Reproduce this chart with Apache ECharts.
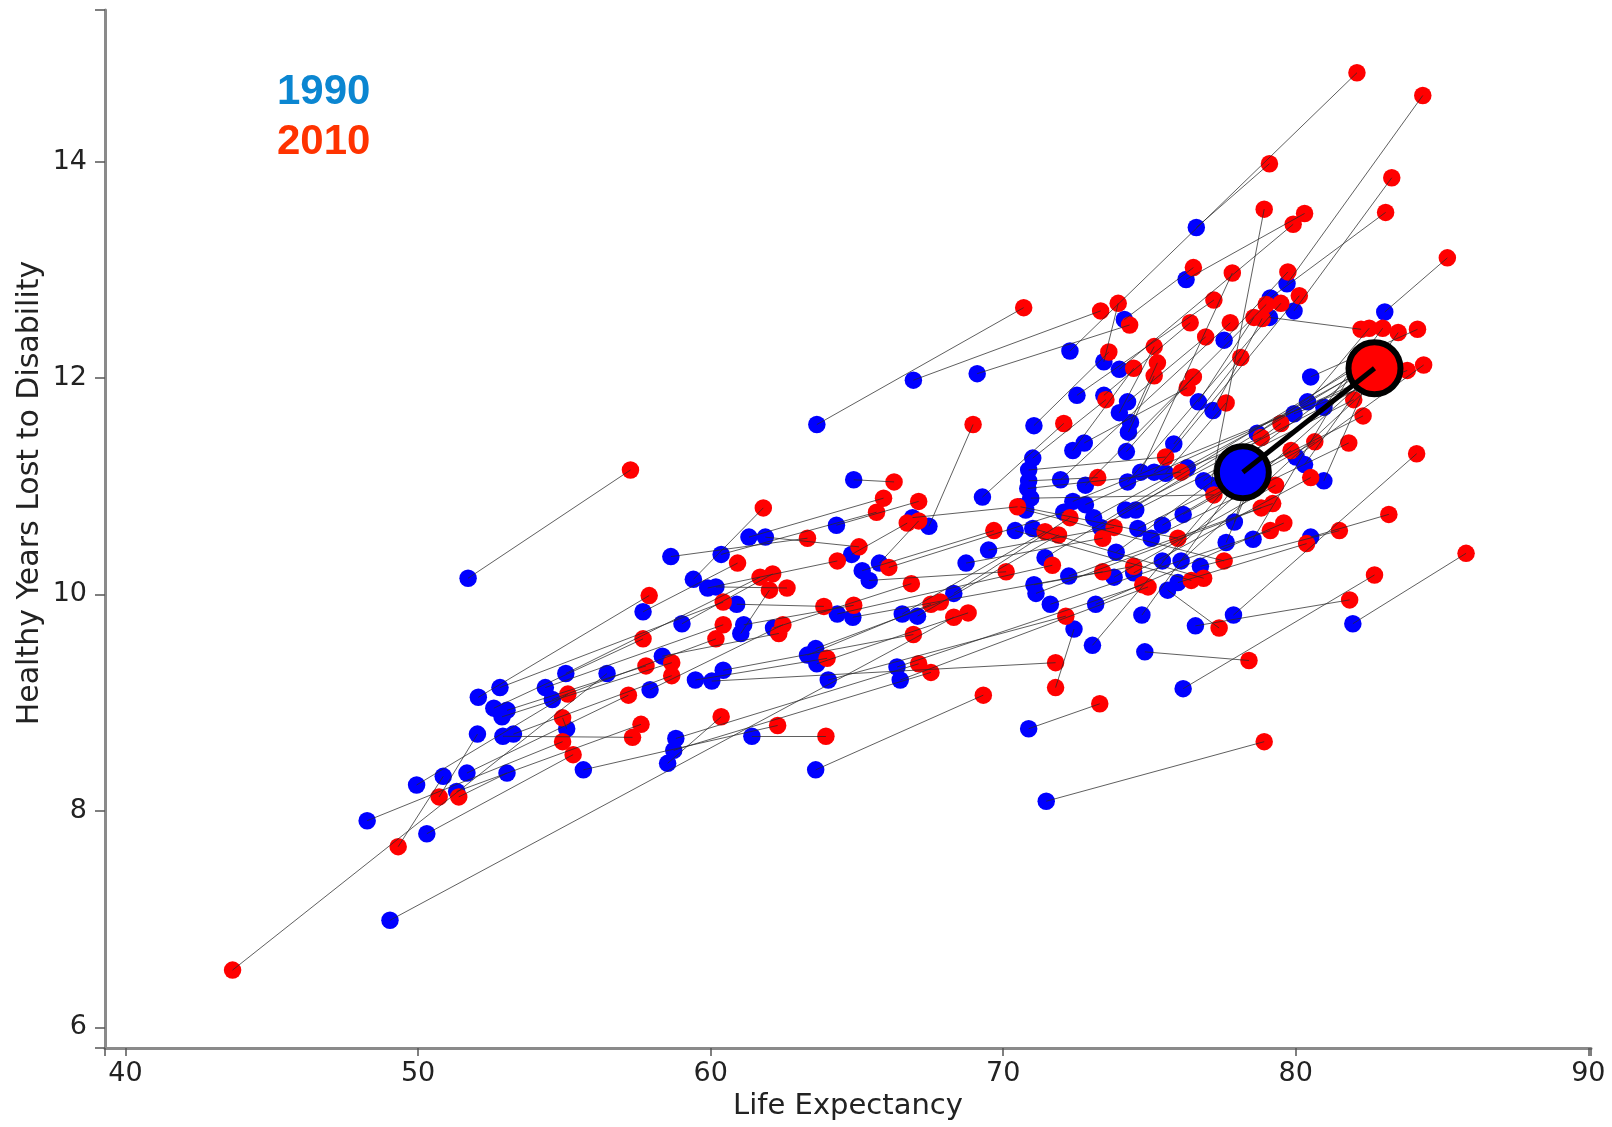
<!DOCTYPE html>
<html>
<head>
<meta charset="utf-8">
<title>Life Expectancy vs Healthy Years Lost to Disability</title>
<script src="https://cdn.jsdelivr.net/npm/echarts@6/dist/echarts.min.js"></script>
<style>
  html, body { margin: 0; padding: 0; background: #ffffff; }
  #chart { width: 1612px; height: 1127px; }
</style>
</head>
<body>
<div id="chart"></div>
<script>
// One entry per country: life expectancy and healthy years lost to disability, 1990 and 2010
const lifeExp1990 = [
  48.26, 49.04, 49.95, 50.30, 50.86, 51.32, 51.67, 51.71, 52.06, 52.59,
  53.04, 52.87, 52.03, 52.90, 53.26, 53.04, 52.80, 54.35, 54.59, 55.05,
  55.08, 55.65, 56.46, 57.69, 57.93, 58.35, 58.64, 59.02, 59.41, 59.90,
  60.18, 60.36, 60.89, 61.13, 61.03, 62.15, 61.31, 61.87, 59.48, 60.04,
  60.43, 58.81, 58.74, 58.53, 61.41, 63.59, 63.31, 63.59, 63.63, 64.02,
  63.63, 64.30, 64.89, 64.82, 65.18, 65.42, 65.77, 64.33, 64.86, 66.37,
  66.48, 66.55, 67.07, 66.90, 67.46, 66.93, 69.11, 68.31, 68.73, 69.50,
  69.29, 71.01, 70.87, 70.87, 70.84, 70.94, 70.59, 70.77, 71.05, 70.41,
  71.01, 71.05, 72.42, 74.84, 76.15, 70.87, 71.47, 76.57, 77.87, 81.95,
  75.62, 72.28, 76.60, 79.70, 79.13, 79.94, 83.04, 76.25, 73.97, 77.10,
  74.14, 73.44, 77.55, 79.10, 72.52, 73.44, 80.51, 74.25, 73.97, 76.67,
  77.17, 80.40, 80.96, 79.94, 74.35, 74.28, 78.68, 72.38, 72.77, 74.21,
  75.83, 80.01, 80.30, 71.96, 72.81, 74.25, 74.70, 75.16, 75.55, 76.29,
  76.85, 72.38, 72.81, 72.07, 73.09, 73.33, 74.18, 74.53, 74.60, 75.06,
  75.44, 76.15, 71.12, 71.43, 71.61, 72.24, 73.16, 73.79, 73.86, 74.46,
  75.44, 76.08, 76.74, 75.97, 74.74, 73.05, 80.96, 77.90, 78.54, 80.51, 77.62
];
const yld1990 = [
  7.91, 6.99, 8.24, 7.79, 8.32, 8.18, 8.35, 10.15, 9.05, 8.95,
  8.93, 8.87, 8.71, 8.69, 8.71, 8.35, 9.14, 9.14, 9.03, 9.27,
  8.76, 8.38, 9.27, 9.84, 9.12, 9.43, 10.35, 9.73, 10.14, 10.06,
  10.07, 10.37, 9.91, 9.72, 9.64, 9.69, 10.53, 10.53, 9.21, 9.20,
  9.30, 8.67, 8.56, 8.44, 8.69, 8.38, 9.44, 9.50, 9.36, 9.21,
  11.57, 10.64, 11.06, 10.37, 10.22, 10.13, 10.29, 9.82, 9.79, 9.33,
  9.21, 9.82, 9.80, 10.71, 10.63, 11.98, 12.04, 10.01, 10.29, 10.41,
  10.90, 11.26, 11.15, 11.05, 10.98, 10.89, 10.81, 10.78, 11.56, 10.59,
  10.61, 10.09, 9.68, 9.47, 9.13, 8.76, 8.09, 9.71, 9.81, 9.73,
  10.04, 12.25, 13.39, 12.87, 12.74, 12.62, 12.61, 12.91, 12.08, 11.01,
  12.54, 12.15, 12.35, 12.56, 11.84, 11.84, 12.01, 11.78, 11.68, 11.78,
  11.70, 11.78, 11.73, 11.67, 11.59, 11.50, 11.49, 11.33, 11.40, 11.32,
  11.39, 11.27, 11.20, 11.06, 11.01, 11.04, 11.13, 11.13, 11.12, 11.17,
  11.05, 10.86, 10.83, 10.76, 10.71, 10.62, 10.78, 10.78, 10.61, 10.52,
  10.64, 10.74, 10.01, 10.34, 9.91, 10.17, 9.91, 10.16, 10.39, 10.20,
  10.31, 10.31, 10.26, 10.11, 9.81, 9.53, 11.05, 10.67, 10.51, 10.53, 10.48
];
const lifeExp2010 = [
  54.94, 68.31, 55.12, 55.30, 49.32, 57.62, 57.19, 57.26, 57.90, 57.69,
  57.79, 58.67, 50.72, 57.33, 58.67, 51.39, 60.43, 60.43, 60.18, 61.69,
  54.94, 62.29, 43.66, 60.92, 62.47, 62.33, 63.31, 62.12, 61.80, 64.33,
  62.61, 65.67, 63.87, 64.89, 62.01, 66.86, 65.91, 65.07, 63.98, 71.79,
  66.93, 67.11, 67.53, 60.36, 63.94, 69.32, 67.53, 67.85, 68.80, 72.14,
  70.70, 67.11, 66.27, 66.72, 69.68, 70.10, 67.11, 71.68, 73.40, 74.77,
  74.95, 71.43, 71.89, 70.49, 68.97, 73.33, 74.32, 72.28, 73.40, 73.79,
  72.07, 73.51, 75.55, 73.23, 76.08, 77.20, 75.97, 77.55, 73.61, 76.43,
  76.85, 74.46, 71.79, 78.40, 82.69, 73.30, 78.92, 81.84, 84.13, 85.82,
  77.38, 82.09, 79.10, 84.34, 83.07, 83.28, 85.18, 80.30, 79.91, 78.92,
  76.50, 73.93, 79.73, 82.23, 77.20, 76.39, 84.16, 76.92, 75.16, 78.57,
  78.85, 82.51, 82.97, 83.81, 75.27, 75.16, 82.33, 74.46, 76.29, 76.50,
  78.12, 84.37, 83.50, 77.76, 78.99, 79.49, 77.83, 80.12, 77.62, 78.82,
  79.49, 82.83, 82.47, 66.09, 83.00, 82.12, 83.18, 81.98, 82.30, 81.81,
  79.84, 80.65, 78.82, 82.65, 79.13, 79.21, 79.59, 79.31, 82.40, 80.51,
  82.90, 82.69, 81.49, 80.37, 78.43, 77.90, 82.58, 78.33, 82.26, 83.18, 78.64
];
const yld2010 = [
  8.64, 9.79, 9.08, 8.52, 7.67, 8.80, 9.07, 11.15, 9.99, 9.59,
  9.34, 9.37, 8.13, 8.68, 9.25, 8.13, 9.93, 9.72, 9.59, 10.16,
  8.86, 8.79, 6.53, 10.29, 9.72, 9.64, 10.52, 10.19, 10.80, 10.31,
  10.06, 10.76, 9.89, 9.90, 10.04, 10.10, 10.89, 10.44, 9.41, 9.37,
  9.63, 9.36, 9.28, 8.87, 8.69, 9.07, 9.91, 9.93, 9.83, 9.80,
  12.65, 10.86, 11.04, 10.66, 10.59, 10.21, 10.68, 10.27, 10.21, 10.09,
  10.07, 10.58, 10.55, 10.81, 11.57, 12.62, 12.49, 10.71, 10.52, 10.62,
  11.58, 11.80, 11.27, 11.08, 11.13, 10.92, 10.52, 10.31, 12.24, 10.13,
  10.15, 10.26, 9.14, 9.39, 10.18, 8.99, 8.64, 9.95, 11.30, 10.38,
  9.69, 14.82, 13.98, 14.61, 13.53, 13.85, 13.11, 13.52, 13.42, 13.56,
  13.02, 12.69, 12.98, 12.45, 12.72, 12.51, 12.45, 12.38, 12.29, 12.56,
  12.55, 12.46, 12.46, 12.07, 12.14, 12.02, 12.17, 12.09, 11.91, 12.01,
  12.19, 12.12, 12.42, 12.51, 12.68, 12.69, 12.97, 12.76, 11.77, 11.45,
  11.58, 12.01, 12.00, 10.25, 12.17, 12.05, 12.05, 11.80, 11.65, 11.40,
  11.33, 11.41, 10.80, 12.19, 10.59, 10.84, 10.66, 11.01, 12.09, 11.08,
  12.11, 11.96, 10.59, 10.47, 11.20, 11.08, 12.05, 11.03, 12.21, 10.74, 11.14
];

// Highlighted pair, drawn large on top
const highlight1990 = [78.19, 11.13];
const highlight2010 = [82.69, 12.09];

// Axis ticks and labels
const xTickLabels = [40, 50, 60, 70, 80, 90];
const yTickLabels = [6, 8, 10, 12, 14];
const xRange = [39.3, 90.09];
const yRange = [5.81, 15.4];

const BLUE = '#0000ff';
const RED = '#ff0000';

const points1990 = lifeExp1990.map((x, i) => [x, yld1990[i]]);
const points2010 = lifeExp2010.map((x, i) => [x, yld2010[i]]);
const links = lifeExp1990.map((x, i) => ({
  coords: [[x, yld1990[i]], [lifeExp2010[i], yld2010[i]]]
}));

const chart = echarts.init(document.getElementById('chart'), null, { renderer: 'canvas' });

const axisFont = '"DejaVu Sans", Verdana, sans-serif';

chart.setOption({
  animation: false,
  backgroundColor: '#ffffff',
  grid: { left: 105, right: 21, top: 10, bottom: 79, containLabel: false, outerBoundsMode: 'none' },
  xAxis: {
    type: 'value',
    min: xRange[0],
    max: xRange[1],
    axisLine: { show: true, onZero: false, lineStyle: { color: '#8a8a8a', width: 3 } },
    axisTick: {
      show: true, length: 8, inside: false,
      customValues: [xRange[0]].concat(xTickLabels, [xRange[1]]),
      lineStyle: { color: '#555', width: 1.5 }
    },
    axisLabel: {
      customValues: xTickLabels, margin: 12,
      fontSize: 27, color: '#222', fontFamily: axisFont
    },
    splitLine: { show: false },
    name: 'Life Expectancy',
    nameLocation: 'middle',
    nameGap: 44,
    nameTextStyle: { fontSize: 29, color: '#222', fontFamily: axisFont, verticalAlign: 'top' }
  },
  yAxis: {
    type: 'value',
    min: yRange[0],
    max: yRange[1],
    axisLine: { show: true, onZero: false, lineStyle: { color: '#8a8a8a', width: 3 } },
    axisTick: {
      show: true, length: 10, inside: false,
      customValues: [yRange[0]].concat(yTickLabels, [yRange[1]]),
      lineStyle: { color: '#555', width: 1.5 }
    },
    axisLabel: {
      customValues: yTickLabels, margin: 18,
      fontSize: 27, color: '#222', fontFamily: axisFont
    },
    splitLine: { show: false }
  },
  graphic: [
    {
      type: 'text', x: 30, y: 493, rotation: Math.PI / 2, z: 10,
      style: {
        text: 'Healthy Years Lost to Disability',
        font: '30px "DejaVu Sans", Verdana, sans-serif',
        fill: '#222', textAlign: 'center', textVerticalAlign: 'middle'
      }
    },
    {
      type: 'text', x: 277, y: 92, z: 10,
      style: {
        text: '1990', font: 'bold 42px "Liberation Sans", Arial, sans-serif',
        fill: '#0b86d1', textAlign: 'left', textVerticalAlign: 'middle'
      }
    },
    {
      type: 'text', x: 277, y: 142, z: 10,
      style: {
        text: '2010', font: 'bold 42px "Liberation Sans", Arial, sans-serif',
        fill: '#ff3300', textAlign: 'left', textVerticalAlign: 'middle'
      }
    }
  ],
  series: [
    {
      name: '1990', type: 'scatter', z: 2, silent: true,
      symbolSize: 17.5, itemStyle: { color: BLUE, opacity: 1 },
      data: points1990
    },
    {
      name: '2010', type: 'scatter', z: 3, silent: true,
      symbolSize: 17.5, itemStyle: { color: RED, opacity: 1 },
      data: points2010
    },
    {
      name: 'change', type: 'lines', coordinateSystem: 'cartesian2d', z: 4, silent: true,
      polyline: false,
      lineStyle: { color: '#2a2a2a', width: 1, opacity: 0.75 },
      data: links
    },
    {
      name: 'highlight 1990', type: 'scatter', z: 5, silent: true,
      symbolSize: 52, itemStyle: { color: BLUE, borderColor: '#000', borderWidth: 6, opacity: 1 },
      data: [highlight1990]
    },
    {
      name: 'highlight 2010', type: 'scatter', z: 5, silent: true,
      symbolSize: 52, itemStyle: { color: RED, borderColor: '#000', borderWidth: 6, opacity: 1 },
      data: [highlight2010]
    },
    {
      name: 'highlight change', type: 'lines', coordinateSystem: 'cartesian2d', z: 6, silent: true,
      lineStyle: { color: '#000', width: 5, opacity: 1 },
      data: [{ coords: [highlight1990, highlight2010] }]
    }
  ]
});
</script>
</body>
</html>
